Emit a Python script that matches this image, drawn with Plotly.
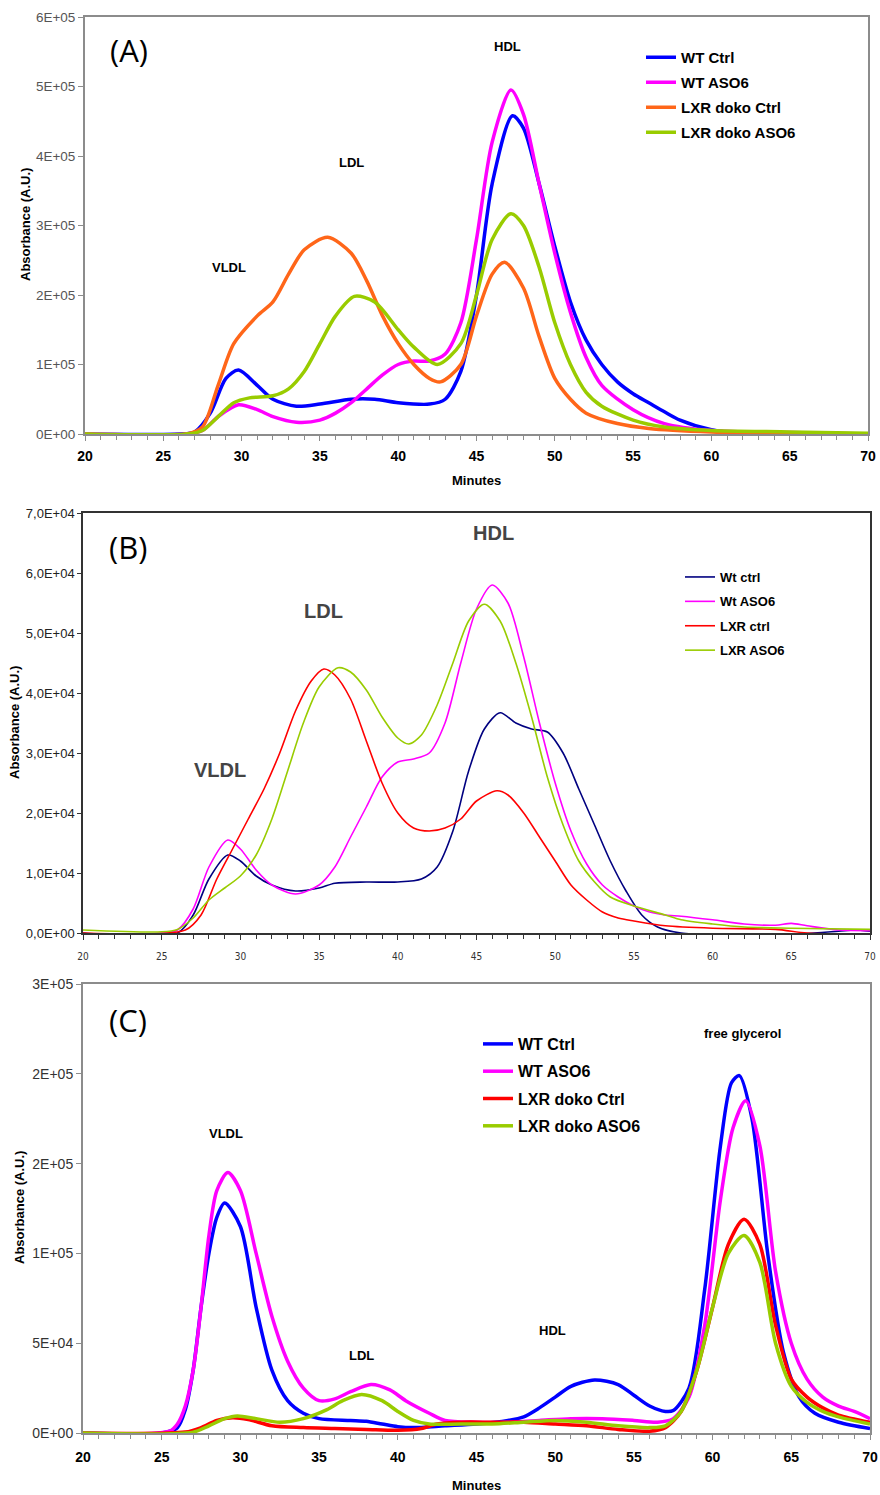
import plotly.graph_objects as go

# ---------------- Panel A data ----------------
A_wt_ctrl_t = [20, 26, 27, 28, 29, 29.8, 31, 32, 33.5, 35, 37, 38.5, 40, 42, 43, 44, 45, 46, 47.3, 48, 49, 50, 51, 52, 53, 54, 55, 56, 57, 58, 60, 62, 64, 66, 68, 70]
A_wt_ctrl_v = [0, 0, 3e3, 3e4, 8e4, 9.2e4, 7e4, 5e4, 4e4, 4.3e4, 5e4, 5e4, 4.5e4, 4.3e4, 5e4, 9e4, 2e5, 3.6e5, 4.58e5, 4.4e5, 3.6e5, 2.7e5, 1.9e5, 1.35e5, 1e5, 7.5e4, 5.8e4, 4.5e4, 3.2e4, 2e4, 6e3, 0, -3e3, -2e3, -1e3, 0]
A_wt_aso_t = [20, 26.5, 27.5, 28.5, 29.8, 31, 32, 33.5, 35, 36, 37, 38, 39, 40, 41, 42, 43, 44, 45, 46, 47.2, 48, 49, 50, 51, 52, 53, 55, 57, 60, 65, 70]
A_wt_aso_v = [0, 0, 5e3, 2.5e4, 4.2e4, 3.5e4, 2.5e4, 1.7e4, 2e4, 3e4, 4.5e4, 6.5e4, 8.5e4, 1.0e5, 1.05e5, 1.05e5, 1.15e5, 1.6e5, 2.8e5, 4.2e5, 4.95e5, 4.6e5, 3.6e5, 2.6e5, 1.75e5, 1.1e5, 7e4, 3.5e4, 1.5e4, 5e3, 2e3, 0]
A_lxr_ctrl_t = [20, 26.5, 27.5, 28.5, 29.5, 31, 32, 33, 34, 35.5, 37, 38, 39, 40, 41, 42, 42.7, 44, 45, 46, 46.8, 48, 49, 50, 51, 52, 54, 56, 60, 65, 70]
A_lxr_ctrl_v = [0, 0, 1e4, 7e4, 1.3e5, 1.7e5, 1.9e5, 2.3e5, 2.65e5, 2.83e5, 2.6e5, 2.2e5, 1.7e5, 1.3e5, 1e5, 8e4, 7.5e4, 1e5, 1.7e5, 2.3e5, 2.47e5, 2.1e5, 1.4e5, 8e4, 5e4, 3e4, 1.5e4, 8e3, 3e3, 1e3, 0]
A_lxr_aso_t = [20, 26.5, 27.5, 28.5, 29.5, 30.5, 32, 33, 34, 35, 36, 37.2, 38.5, 40, 41, 42.5, 44, 45, 46, 47.2, 48, 49, 50, 51, 52, 53, 55, 57, 60, 65, 70]
A_lxr_aso_v = [0, 0, 5e3, 2.5e4, 4.5e4, 5.2e4, 5.5e4, 6.5e4, 9e4, 1.3e5, 1.7e5, 1.98e5, 1.9e5, 1.5e5, 1.25e5, 1.0e5, 1.3e5, 2e5, 2.8e5, 3.17e5, 3e5, 2.4e5, 1.6e5, 1.0e5, 6e4, 4e4, 2e4, 1e4, 5e3, 3e3, 1e3]

# ---------------- Panel B data ----------------
B_wt_ctrl_t = [20, 26, 27, 28, 29.2, 30, 31, 32, 33.5, 35, 36, 38, 40, 41.5, 42.5, 43.5, 44.5, 45.5, 46.5, 47.5, 48.5, 49.5, 50.5, 51.5, 52.5, 53.5, 54.5, 55.5, 56.5, 58, 60, 65, 68, 69, 70]
B_wt_ctrl_v = [0, 0, 3e3, 9e3, 1.3e4, 1.2e4, 9.5e3, 8e3, 7e3, 7.5e3, 8.3e3, 8.5e3, 8.5e3, 9e3, 1.1e4, 1.7e4, 2.7e4, 3.4e4, 3.67e4, 3.5e4, 3.4e4, 3.35e4, 3e4, 2.4e4, 1.8e4, 1.2e4, 7e3, 3e3, 1e3, 0, -200, -200, 300, 500, 300]
B_wt_aso_t = [20, 25, 26, 27, 28, 29.2, 30, 31, 32, 33.5, 35, 36, 37, 38, 39, 40, 41, 42, 43, 44, 45, 46, 47, 48, 49, 50, 51, 52, 53, 54, 55, 56, 57, 58, 60, 62, 64, 65, 66, 68, 70]
B_wt_aso_v = [-300, 0, 500, 4e3, 1.1e4, 1.55e4, 1.4e4, 1.05e4, 8e3, 6.5e3, 8e3, 1.1e4, 1.6e4, 2.1e4, 2.6e4, 2.85e4, 2.9e4, 3.0e4, 3.5e4, 4.5e4, 5.4e4, 5.8e4, 5.5e4, 4.6e4, 3.5e4, 2.5e4, 1.7e4, 1.15e4, 8e3, 6e3, 4.5e3, 3.5e3, 3e3, 2.8e3, 2.2e3, 1.5e3, 1.3e3, 1.6e3, 1.2e3, 500, 400]
B_lxr_ctrl_t = [20, 26.5, 27.5, 28.5, 29.5, 30.5, 31.5, 32.5, 33.5, 34.5, 35.3, 36, 37, 38, 39, 40, 41, 42, 43, 44, 45, 46.3, 47, 48, 49, 50, 51, 52, 53, 54, 55, 57, 60, 64, 66, 70]
B_lxr_ctrl_v = [0, 500, 3e3, 9e3, 1.4e4, 1.9e4, 2.4e4, 3e4, 3.7e4, 4.2e4, 4.4e4, 4.3e4, 3.9e4, 3.2e4, 2.5e4, 2.0e4, 1.75e4, 1.7e4, 1.75e4, 1.9e4, 2.2e4, 2.37e4, 2.3e4, 2.0e4, 1.6e4, 1.2e4, 8e3, 5.5e3, 3.5e3, 2.5e3, 2e3, 1.2e3, 800, 600, 0, -300]
B_lxr_aso_t = [20, 25, 26, 27, 28, 29, 30, 31, 32, 33, 34, 35, 36.2, 37, 38, 39, 40, 40.7, 41.5, 42.5, 43.5, 44.5, 45.5, 46.5, 47.5, 48.5, 49.5, 50.5, 51.5, 52.5, 53.5, 55, 57, 58, 60, 62, 65, 70]
B_lxr_aso_v = [500, 200, 600, 2.5e3, 5.5e3, 7.5e3, 9.5e3, 1.3e4, 1.9e4, 2.7e4, 3.5e4, 4.1e4, 4.42e4, 4.35e4, 4.05e4, 3.6e4, 3.25e4, 3.15e4, 3.3e4, 3.8e4, 4.5e4, 5.2e4, 5.48e4, 5.2e4, 4.5e4, 3.6e4, 2.6e4, 1.8e4, 1.2e4, 8.5e3, 6e3, 4.5e3, 3e3, 2.2e3, 1.5e3, 1e3, 800, 600]

# ---------------- Panel C data ----------------
C_wt_ctrl_t = [20, 25, 26, 26.5, 27, 27.5, 28, 28.5, 29, 30, 31, 32, 33, 34, 35, 37, 38, 39, 40, 41, 43, 45, 47, 48, 49, 50, 51, 52.5, 54, 55, 56, 57, 57.5, 58.5, 59.5, 60.5, 61.2, 61.7, 62.5, 63.5, 64.5, 65.5, 66.5, 68, 70]
C_wt_ctrl_v = [0, 0, 3e3, 1.3e4, 3.5e4, 7e4, 1e5, 1.2e5, 1.28e5, 1.15e5, 7e4, 3.5e4, 1.8e4, 1.1e4, 8e3, 7e3, 6.5e3, 5e3, 3.5e3, 3e3, 4e3, 5e3, 7e3, 9e3, 1.4e4, 2.0e4, 2.6e4, 2.95e4, 2.7e4, 2.1e4, 1.5e4, 1.2e4, 1.25e4, 2.5e4, 8e4, 1.6e5, 1.95e5, 1.99e5, 1.75e5, 1.0e5, 4.5e4, 2e4, 1.1e4, 6e3, 2.5e3]
C_wt_aso_t = [20, 25.5, 26, 26.5, 27, 27.5, 28, 28.5, 29.2, 30, 31, 32, 33, 34, 35, 36, 37, 38.3, 39.5, 40.5, 42, 43, 45, 47, 49, 51, 53, 55, 56.5, 57.5, 58.5, 59.5, 60.5, 61.3, 62.1, 63, 64, 65, 66, 67, 68, 69, 70]
C_wt_aso_v = [0, 1e3, 5e3, 1.5e4, 3.5e4, 7e4, 1.1e5, 1.35e5, 1.45e5, 1.35e5, 1.0e5, 6.5e4, 4e4, 2.5e4, 1.8e4, 1.9e4, 2.3e4, 2.7e4, 2.4e4, 1.8e4, 1.1e4, 7e3, 6e3, 6e3, 7e3, 8e3, 8e3, 7e3, 6e3, 8e3, 2e4, 6e4, 1.3e5, 1.7e5, 1.85e5, 1.6e5, 9e4, 5e4, 3e4, 2e4, 1.5e4, 1.2e4, 8e3]
C_lxr_ctrl_t = [20, 26.5, 27.5, 28.5, 29.5, 30.5, 32, 34, 36, 38, 40, 41.5, 42.5, 44, 46, 48, 50, 52, 54, 56, 57, 58, 59, 60, 61, 62, 63, 64, 65, 66, 67, 68, 70]
C_lxr_ctrl_v = [0, 500, 3e3, 7e3, 8.5e3, 7.5e3, 4e3, 3e3, 2.5e3, 2e3, 1.5e3, 2.5e3, 5e3, 6e3, 6e3, 6e3, 5e3, 4e3, 2e3, 1e3, 3e3, 1.2e4, 3.5e4, 7e4, 1.05e5, 1.19e5, 1.05e5, 6e4, 3e4, 2e4, 1.4e4, 1e4, 6e3]
C_lxr_aso_t = [20, 27, 28, 29, 29.8, 31, 32.5, 34, 35.5, 36.5, 37.7, 39, 40, 41, 42, 44, 46, 48, 50, 52, 54, 56, 57, 58, 59, 60, 61, 62, 63, 64, 65, 66, 67, 68, 70]
C_lxr_aso_v = [0, 500, 4e3, 8e3, 9.5e3, 8e3, 6e3, 8e3, 1.3e4, 1.8e4, 2.15e4, 1.8e4, 1.2e4, 7e3, 5e3, 5e3, 5e3, 6e3, 7e3, 6e3, 4e3, 3e3, 4e3, 1.2e4, 3.5e4, 7e4, 1e5, 1.1e5, 9.5e4, 5e4, 2.6e4, 1.7e4, 1.2e4, 9e3, 5e3]

# ---------------- Labels / ticks ----------------
A_names = ["WT Ctrl", "WT ASO6", "LXR doko Ctrl", "LXR doko ASO6"]
B_names = ["Wt ctrl", "Wt ASO6", "LXR ctrl", "LXR ASO6"]
C_names = ["WT Ctrl", "WT ASO6", "LXR doko Ctrl", "LXR doko ASO6"]
A_colors = ["#0000FF", "#FF00FF", "#FF6619", "#99CC00"]
B_colors = ["#000080", "#FF00FF", "#FF0000", "#99CC00"]
C_colors = ["#0000FF", "#FF00FF", "#FF0000", "#99CC00"]

A_yticks = [0, 1e5, 2e5, 3e5, 4e5, 5e5, 6e5]
A_yticktext = ["0E+00", "1E+05", "2E+05", "3E+05", "4E+05", "5E+05", "6E+05"]
B_yticks = [0, 1e4, 2e4, 3e4, 4e4, 5e4, 6e4, 7e4]
B_yticktext = ["0,0E+00", "1,0E+04", "2,0E+04", "3,0E+04", "4,0E+04", "5,0E+04", "6,0E+04", "7,0E+04"]
C_yticks = [0, 5e4, 1e5, 1.5e5, 2e5, 2.5e5]
C_yticktext = ["0E+00", "5E+04", "1E+05", "2E+05", "2E+05", "3E+05"]
x_ticks = [20, 25, 30, 35, 40, 45, 50, 55, 60, 65, 70]

A_peaks = [("VLDL", 29.2, 2.4e5), ("LDL", 37.0, 3.91e5), ("HDL", 46.95, 5.57e5)]
B_peaks = [("HDL", 46.05, 6.67e4), ("LDL", 35.25, 5.37e4), ("VLDL", 28.7, 2.72e4)]
C_peaks = [("VLDL", 29.1, 1.665e5), ("LDL", 37.7, 4.34e4), ("HDL", 49.8, 5.68e4), ("free glycerol", 61.9, 2.227e5)]

W, H = 880, 1495
fig = go.Figure()

panels = [
    dict(ax="", legend="legend", names=A_names, colors=A_colors, width=3.5,
         data=[(A_wt_ctrl_t, A_wt_ctrl_v), (A_wt_aso_t, A_wt_aso_v), (A_lxr_ctrl_t, A_lxr_ctrl_v), (A_lxr_aso_t, A_lxr_aso_v)]),
    dict(ax="2", legend="legend2", names=B_names, colors=B_colors, width=1.6,
         data=[(B_wt_ctrl_t, B_wt_ctrl_v), (B_wt_aso_t, B_wt_aso_v), (B_lxr_ctrl_t, B_lxr_ctrl_v), (B_lxr_aso_t, B_lxr_aso_v)]),
    dict(ax="3", legend="legend3", names=C_names, colors=C_colors, width=3.5,
         data=[(C_wt_ctrl_t, C_wt_ctrl_v), (C_wt_aso_t, C_wt_aso_v), (C_lxr_ctrl_t, C_lxr_ctrl_v), (C_lxr_aso_t, C_lxr_aso_v)]),
]

for pi, p in enumerate(panels):
    for si, ((t, v), name, col) in enumerate(zip(p["data"], p["names"], p["colors"])):
        fig.add_trace(go.Scatter(x=t, y=v, mode="lines", name=name,
                                 legendgroup=f"g{pi}_{si}",
                                 line=dict(color=col, width=p["width"], shape="spline", smoothing=0.8),
                                 xaxis="x" + p["ax"], yaxis="y" + p["ax"], legend=p["legend"]))

def py(y):
    return 1 - y / H

common_x = dict(range=[20, 70], tickvals=x_ticks, ticks="outside", ticklen=5, showgrid=False,
                zeroline=False, showline=True, mirror=True, automargin=False,
                minor=dict(dtick=1, ticks="outside", ticklen=4, showgrid=False))
common_y = dict(ticks="outside", ticklen=5, showgrid=False, zeroline=False, showline=True,
                mirror=True, automargin=False)

ab_font = dict(family="Liberation Sans, Arial", size=13, color="black", weight="bold")

fig.update_layout(
    width=W, height=H, margin=dict(l=0, r=0, t=0, b=0, autoexpand=False),
    paper_bgcolor="white", plot_bgcolor="white",
    xaxis=dict(common_x, domain=[85 / W, 868 / W], anchor="y", linecolor="#8c8c8c", linewidth=2,
               tickcolor="#8c8c8c", minor_tickcolor="#8c8c8c", ticklabelstandoff=3,
               tickfont=dict(family="Liberation Sans, Arial", size=14, color="black", weight="bold")),
    yaxis=dict(common_y, domain=[py(434), py(17)], anchor="x", range=[0, 6e5],
               tickvals=A_yticks, ticktext=A_yticktext,
               linecolor="#8c8c8c", linewidth=2, tickcolor="#8c8c8c",
               tickfont=dict(family="Liberation Sans, Arial", size=13.5, color="#555555")),
    xaxis2=dict(common_x, domain=[83 / W, 870 / W], anchor="y2", linecolor="#333333", linewidth=1.5,
                tickcolor="#333333", minor_tickcolor="#333333", ticklabelstandoff=8,
                tickfont=dict(family="DejaVu Sans Condensed, DejaVu Sans", size=10, color="#333333")),
    yaxis2=dict(common_y, domain=[py(933), py(513)], anchor="x2", range=[0, 7e4],
                tickvals=B_yticks, ticktext=B_yticktext, ticklen=4,
                linecolor="#333333", linewidth=1.5, tickcolor="#333333",
                tickfont=dict(family="Liberation Sans, Arial", size=13, color="#222222")),
    xaxis3=dict(common_x, domain=[83 / W, 870 / W], anchor="y3", linecolor="#8c8c8c", linewidth=2,
                tickcolor="#8c8c8c", minor_tickcolor="#8c8c8c", ticklabelstandoff=5,
                tickfont=dict(family="Liberation Sans, Arial", size=14, color="black", weight="bold")),
    yaxis3=dict(common_y, domain=[py(1433), py(984)], anchor="x3", range=[0, 2.5e5],
                tickvals=C_yticks, ticktext=C_yticktext,
                linecolor="#8c8c8c", linewidth=2, tickcolor="#8c8c8c",
                tickfont=dict(family="Liberation Sans, Arial", size=14, color="#333333")),
    legend=dict(x=641 / W, y=py(41), xanchor="left", yanchor="top",
                bgcolor="rgba(0,0,0,0)", itemwidth=30, tracegroupgap=2.5,
                font=dict(family="Liberation Sans, Arial", size=15, color="black", weight="bold")),
    legend2=dict(x=680 / W, y=py(562), xanchor="left", yanchor="top",
                 bgcolor="rgba(0,0,0,0)", itemwidth=30, tracegroupgap=4.5,
                 font=dict(family="Liberation Sans, Arial", size=13, color="black", weight="bold")),
    legend3=dict(x=478 / W, y=py(1027), xanchor="left", yanchor="top",
                 bgcolor="rgba(0,0,0,0)", itemwidth=30, tracegroupgap=3.5,
                 font=dict(family="Liberation Sans, Arial", size=16, color="black", weight="bold")),
    showlegend=True,
)

annotations = []
for text, xv, yv in A_peaks:
    annotations.append(dict(text=text, x=xv, y=yv, xref="x", yref="y", showarrow=False,
                            font=dict(family="Liberation Sans, Arial", size=13, color="black", weight="bold")))
for text, xv, yv in B_peaks:
    annotations.append(dict(text=text, x=xv, y=yv, xref="x2", yref="y2", showarrow=False,
                            font=dict(family="Liberation Sans, Arial", size=20, color="#444444", weight="bold")))
for text, xv, yv in C_peaks:
    annotations.append(dict(text=text, x=xv, y=yv, xref="x3", yref="y3", showarrow=False,
                            font=dict(family="Liberation Sans, Arial", size=13, color="black", weight="bold")))

for lab, xr, yr in [("(A)", "x", "y"), ("(B)", "x2", "y2"), ("(C)", "x3", "y3")]:
    annotations.append(dict(text=lab, x=0.03, y=0.92, xref=xr + " domain", yref=yr + " domain",
                            xanchor="left", yanchor="middle", showarrow=False,
                            font=dict(family="Open Sans", size=31, color="black")))

# axis titles
for xp, yp in [(25, 225), (14, 723), (19, 1208)]:
    annotations.append(dict(text="Absorbance (A.U.)", x=xp / W, y=py(yp), xref="paper", yref="paper",
                            xanchor="center", yanchor="middle",
                            textangle=-90, showarrow=False, font=ab_font))
for xp, yp in [(477, 481), (477, 1485)]:
    annotations.append(dict(text="Minutes", x=xp / W, y=py(yp), xref="paper", yref="paper",
                            xanchor="center", yanchor="middle",
                            showarrow=False, font=ab_font))

fig.update_layout(annotations=annotations)
fig.write_html("out.html")
